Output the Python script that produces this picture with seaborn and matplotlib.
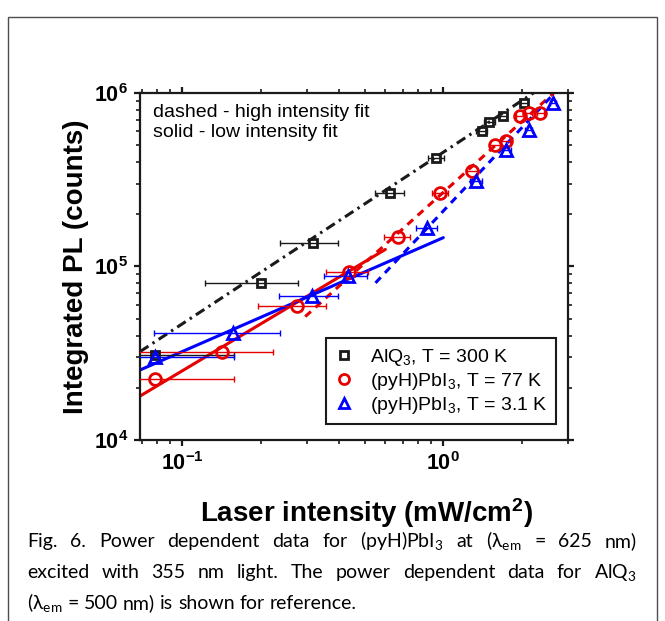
import numpy as np
import pandas as pd
import matplotlib
matplotlib.use("Agg")
import matplotlib.pyplot as plt
import seaborn as sns
from matplotlib.lines import Line2D
from matplotlib.patches import Rectangle
from matplotlib.ticker import LogLocator, FuncFormatter, NullFormatter

# AlQ3, T = 300 K
alq_x = [0.079, 0.20, 0.316, 0.627, 0.94, 1.40, 1.50, 1.69, 2.03]
alq_y = [31000, 80000, 136000, 264000, 420000, 607000, 684000, 737000, 873000]
alq_xerr = [0.079, 0.078, 0.08, 0.08, 0.07, 0.07, 0.07, 0.07, 0.07]

# (pyH)PbI3, T = 77 K
r77_x = [0.079, 0.142, 0.275, 0.434, 0.668, 0.974, 1.29, 1.58, 1.73, 1.96, 2.12, 2.35]
r77_y = [22400, 32000, 59200, 93300, 147300, 265000, 357000, 500000, 527000,
         734000, 767000, 767000]
r77_xerr = [0.079, 0.08, 0.08, 0.08, 0.075, 0.07, 0.07, 0.07, 0.07, 0.07, 0.07, 0.07]

# (pyH)PbI3, T = 3.1 K
b3_x = [0.079, 0.157, 0.314, 0.43, 0.866, 1.33, 1.74, 2.12, 2.63]
b3_y = [30200, 41550, 67600, 88200, 166000, 310000, 472000, 614000, 876000]
b3_xerr = [0.079, 0.079, 0.08, 0.08, 0.08, 0.07, 0.07, 0.07, 0.07]

# power-law fits  y = A * x**k
fit_names = ["alq", "r77_low", "b3_low", "r77_high", "b3_high"]
fit_amp = [455600, 198600, 146600, 267600, 208900]
fit_exp = [0.99, 0.90, 0.657, 1.355, 1.597]
fit_xmin = [0.069, 0.069, 0.069, 0.296, 0.55]
fit_xmax = [2.6, 0.6, 1.0, 2.75, 2.75]

labels = ["AlQ$_3$, T = 300 K", "(pyH)PbI$_3$, T = 77 K", "(pyH)PbI$_3$, T = 3.1 K"]

caption_lines = [
    "Fig. 6. Power dependent data for (pyH)PbI$_3$ at (λ$_{em}$ = 625 nm)",
    "excited with 355 nm light. The power dependent data for AlQ$_3$",
    "(λ$_{em}$ = 500 nm) is shown for reference.",
]

RED = "#e60000"
BLUE = "#0000ff"

sns.set_theme(style="ticks")
plt.rcParams["font.family"] = ["Liberation Sans", "DejaVu Sans"]
plt.rcParams["mathtext.fontset"] = "custom"
plt.rcParams["mathtext.rm"] = "Liberation Sans"
plt.rcParams["mathtext.bf"] = "Liberation Sans:bold"
plt.rcParams["mathtext.default"] = "regular"
for key in ["text.color", "axes.labelcolor", "xtick.color", "ytick.color",
            "axes.edgecolor"]:
    plt.rcParams[key] = "black"

fig = plt.figure(figsize=(6.65, 6.21), dpi=100)
ax = fig.add_axes([0.2105, 0.2915, 0.6436, 0.5588])
ax.set_xscale("log")
ax.set_yscale("log")

# fit lines
styles = {
    "alq": ("k", (0, (3.3, 1.6, 0.8, 1.6))),
    "r77_low": (RED, "-"),
    "b3_low": (BLUE, "-"),
    "r77_high": (RED, (0, (2.5, 2.0))),
    "b3_high": (BLUE, (0, (2.5, 2.0))),
}
for name, a, k, x0, x1 in zip(fit_names, fit_amp, fit_exp, fit_xmin, fit_xmax):
    xs = np.geomspace(x0, x1, 60)
    df = pd.DataFrame({"x": xs, "y": a * xs ** k})
    c, ls = styles[name]
    sns.lineplot(data=df, x="x", y="y", color=c, linestyle=ls, lw=2.2, ax=ax,
                 estimator=None, sort=False, zorder=2)

# data points with x error bars
series = [
    (alq_x, alq_y, alq_xerr, "s", "k", 6),
    (r77_x, r77_y, r77_xerr, "o", RED, 8.5),
    (b3_x, b3_y, b3_xerr, "^", BLUE, 9),
]
handles = []
for (x, y, xe, m, c, ms), lab in zip(series, labels):
    ax.errorbar(x, y, xerr=xe, fmt="none", ecolor=c, elinewidth=1.0,
                capsize=2.5, capthick=1.0, zorder=3)
    ax.plot(x, y, ls="none", marker=m, ms=ms, mfc="none", mec=c, mew=2.0, zorder=4)
    handles.append(Line2D([], [], ls="none", marker=m, ms=ms * 0.85, mfc="none",
                          mec=c, mew=2.0))

ax.set_xlim(0.069, 3.0)
ax.set_ylim(1e4, 1e6)

for sp in ax.spines.values():
    sp.set_linewidth(1.6)
    sp.set_color("k")

ax.xaxis.set_major_locator(LogLocator(base=10, numticks=10))
ax.yaxis.set_major_locator(LogLocator(base=10, numticks=10))
ax.xaxis.set_minor_locator(LogLocator(base=10, subs=np.arange(2, 10), numticks=20))
ax.yaxis.set_minor_locator(LogLocator(base=10, subs=np.arange(2, 10), numticks=20))
fmt = FuncFormatter(lambda v, p: r"$\mathbf{10^{%d}}$" % round(np.log10(v)))
ax.xaxis.set_major_formatter(fmt)
ax.yaxis.set_major_formatter(fmt)
ax.xaxis.set_minor_formatter(NullFormatter())
ax.yaxis.set_minor_formatter(NullFormatter())
ax.tick_params(which="both", direction="out", top=True, right=True, color="k")
ax.tick_params(which="major", length=4.5, width=1.6, labelsize=15.5, pad=4)
ax.tick_params(which="minor", length=2.6, width=1.2)

ax.set_xlabel("Laser intensity (mW/cm$^\\mathbf{2}$)", fontsize=20, fontweight="bold")
ax.set_ylabel("Integrated PL (counts)", fontsize=20, fontweight="bold")
ax.xaxis.set_label_coords(0.529, -0.162)
ax.yaxis.set_label_coords(-0.118, 0.5)

ax.text(0.030, 0.968, "dashed - high intensity fit\nsolid - low intensity fit",
        transform=ax.transAxes, fontsize=14, va="top", ha="left", linespacing=1.25)

leg = ax.legend(handles, labels, loc="lower right", bbox_to_anchor=(0.972, 0.045),
                borderaxespad=0, fontsize=14, frameon=True, fancybox=False,
                framealpha=1, edgecolor="k", handlelength=1.0, handletextpad=0.8,
                labelspacing=0.15, borderpad=0.45)
leg.get_frame().set_linewidth(1.5)

# outer frame
fig.patches.append(Rectangle((8 / 665, -0.01), 649 / 665, 0.9726 + 0.01,
                             transform=fig.transFigure, fill=False,
                             edgecolor="0.3", linewidth=1.0))

# justified caption
cap_font = ["Lato", "DejaVu Sans"]
cap_size = 14
x_left, x_right = 27, 637
baselines = [547, 578, 609]
fig.canvas.draw()
renderer = fig.canvas.get_renderer()
W, H = fig.bbox.width, fig.bbox.height
space = fig.text(0, 0, "a a", fontsize=cap_size, family=cap_font)
space_w = space.get_window_extent(renderer).width
aa = fig.text(0, 0, "aa", fontsize=cap_size, family=cap_font)
space_w -= aa.get_window_extent(renderer).width
space.remove()
aa.remove()
for i, (line, yb) in enumerate(zip(caption_lines, baselines)):
    words = line.split(" ")
    texts = [fig.text(0, 1 - yb / H, w, fontsize=cap_size, family=cap_font,
                      va="baseline", ha="left") for w in words]
    widths = [t.get_window_extent(renderer).width for t in texts]
    if i < len(caption_lines) - 1:
        gap = (x_right - x_left - sum(widths)) / (len(words) - 1)
    else:
        gap = space_w
    pos = x_left
    for t, w in zip(texts, widths):
        t.set_x(pos / W)
        pos += w + gap

fig.savefig("out.png", dpi=100)
